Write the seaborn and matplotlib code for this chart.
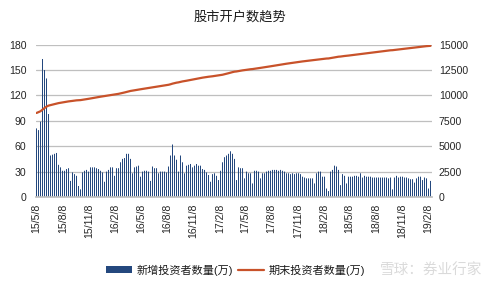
import numpy as np
import pandas as pd
import matplotlib
matplotlib.use("Agg")
import matplotlib.pyplot as plt
import seaborn as sns
from matplotlib.patches import Patch
from matplotlib.lines import Line2D

# ---------------- data ----------------
start_date = "2015-05-08"

# weekly new investors (万)
new_investors = [
    81, 79, 89, 163, 150, 140, 98, 49, 50, 51,
    52, 38, 35, 31, 31, 33, 34, 19, 29, 27,
    25, 13, 9, 29, 31, 32, 30, 35, 35, 35,
    34, 33, 31, 29, 18, 30, 32, 35, 35, 25,
    34, 34, 41, 45, 46, 51, 51, 45, 28, 35,
    36, 37, 24, 30, 31, 31, 30, 19, 36, 34,
    34, 28, 30, 30, 30, 29, 36, 49, 62, 49,
    44, 30, 49, 41, 28, 37, 38, 39, 35, 37,
    39, 37, 37, 33, 32, 29, 26, 18, 27, 28,
    25, 20, 31, 41, 47, 49, 51, 54, 51, 45,
    20, 35, 34, 34, 22, 30, 28, 28, 16, 31,
    31, 30, 22, 28, 28, 30, 31, 31, 32, 32,
    32, 31, 32, 31, 30, 28, 28, 27, 28, 27,
    28, 28, 27, 24, 23, 22, 22, 22, 22, 16,
    28, 30, 30, 24, 24, 10, 7, 30, 32, 37,
    36, 32, 14, 27, 25, 16, 24, 24, 24, 25,
    25, 24, 28, 23, 25, 24, 24, 24, 23, 23,
    23, 23, 23, 23, 23, 23, 22, 23, 9, 23,
    25, 23, 24, 24, 23, 23, 22, 21, 21, 17,
    22, 24, 24, 20, 23, 22, 10, 19,
]

# period-end investors (万)
end_investors = [
    8270, 8350, 8440, 8604, 8755, 8896, 8995, 9045, 9096, 9148,
    9201, 9240, 9276, 9308, 9340, 9374, 9409, 9429, 9459, 9487,
    9513, 9527, 9537, 9567, 9599, 9632, 9663, 9699, 9735, 9771,
    9806, 9840, 9872, 9902, 9921, 9952, 9985, 10021, 10057, 10083,
    10118, 10153, 10195, 10241, 10288, 10340, 10392, 10438, 10467, 10503,
    10540, 10578, 10603, 10634, 10666, 10698, 10729, 10749, 10786, 10821,
    10856, 10885, 10916, 10947, 10978, 11008, 11045, 11095, 11158, 11208,
    11253, 11284, 11334, 11376, 11405, 11443, 11482, 11522, 11558, 11596,
    11636, 11674, 11712, 11746, 11779, 11809, 11836, 11855, 11883, 11912,
    11938, 11959, 11991, 12033, 12081, 12131, 12183, 12238, 12290, 12336,
    12357, 12393, 12428, 12463, 12486, 12517, 12546, 12575, 12592, 12624,
    12656, 12687, 12710, 12739, 12768, 12799, 12831, 12863, 12896, 12929,
    12962, 12994, 13027, 13059, 13090, 13119, 13148, 13176, 13205, 13233,
    13262, 13291, 13319, 13344, 13368, 13391, 13414, 13437, 13460, 13477,
    13506, 13537, 13568, 13593, 13618, 13629, 13637, 13668, 13701, 13739,
    13776, 13809, 13824, 13852, 13878, 13895, 13920, 13945, 13970, 13996,
    14022, 14047, 14076, 14100, 14126, 14151, 14176, 14201, 14225, 14249,
    14273, 14297, 14321, 14345, 14369, 14393, 14416, 14440, 14450, 14474,
    14500, 14524, 14549, 14574, 14598, 14622, 14645, 14667, 14689, 14707,
    14730, 14755, 14780, 14801, 14825, 14848, 14859, 14879,
]

tick_labels = ["15/5/8", "15/8/8", "15/11/8", "16/2/8", "16/5/8", "16/8/8",
               "16/11/8", "17/2/8", "17/5/8", "17/8/8", "17/11/8", "18/2/8",
               "18/5/8", "18/8/8", "18/11/8", "19/2/8"]
tick_dates = ["2015-05-08", "2015-08-08", "2015-11-08", "2016-02-08",
              "2016-05-08", "2016-08-08", "2016-11-08", "2017-02-08",
              "2017-05-08", "2017-08-08", "2017-11-08", "2018-02-08",
              "2018-05-08", "2018-08-08", "2018-11-08", "2019-02-08"]

left_ticks = [0, 30, 60, 90, 120, 150, 180]
right_ticks = [0, 2500, 5000, 7500, 10000, 12500, 15000]

title = "股市开户数趋势"
bar_label = "新增投资者数量(万)"
line_label = "期末投资者数量(万)"
watermark = "雪球：券业行家"

# ---------------- style ----------------
sns.set_theme(style="white")
plt.rcParams['font.family'] = ['Liberation Sans', 'Noto Sans CJK SC', 'DejaVu Sans']

bar_color = "#24487E"
line_color = "#C8522A"
grid_color = "#BFBFBF"
text_color = "#262626"

W, H = 491, 288
fig = plt.figure(figsize=(W / 100, H / 100), dpi=100)
n = len(new_investors)
# axes spans exactly 2 px per week so the thin bars render evenly
ax = fig.add_axes([36 / W, 91 / H, 2 * n / W, 152.4 / H])

df = pd.DataFrame({
    "week": np.arange(n),
    "new": new_investors,
    "total": end_investors,
})

sns.barplot(data=df, x="week", y="new", color=bar_color, saturation=1,
            width=0.5, native_scale=True, errorbar=None, ax=ax, zorder=2,
            linewidth=0, edgecolor="none")
for p in ax.patches:
    p.set_snap(False)

ax2 = ax.twinx()
sns.lineplot(data=df, x="week", y="total", color=line_color, lw=1.6,
             ax=ax2, zorder=3)

# offset of a quarter week puts each 1-px bar exactly on a pixel column
ax.set_xlim(-0.25, n - 0.25)
ax.set_ylim(0, 180)
ax2.set_ylim(0, 15000)

tick_pos = ((pd.to_datetime(tick_dates) - pd.Timestamp(start_date)).days / 7).to_numpy()
ax.set_xticks(tick_pos)
ax.set_xticklabels(tick_labels, rotation=90, fontsize=7.6, color=text_color)
ax.set_yticks(left_ticks)
ax.set_yticklabels([str(v) for v in left_ticks], fontsize=7.6, color=text_color)
ax2.set_yticks(right_ticks)
ax2.set_yticklabels([str(v) for v in right_ticks], fontsize=7.6, color=text_color)

ax.tick_params(axis="x", length=0, pad=5)
ax.tick_params(axis="y", length=0, pad=7)
ax2.tick_params(axis="y", length=0, pad=5)

ax.set_xlabel("")
ax.set_ylabel("")
ax2.set_xlabel("")
ax2.set_ylabel("")

ax.set_axisbelow(True)
ax.yaxis.grid(True, color=grid_color, lw=0.9)
ax.xaxis.grid(False)
for a in (ax, ax2):
    for s in ("top", "left", "right"):
        a.spines[s].set_visible(False)
    a.spines["bottom"].set_color(grid_color)
ax2.spines["bottom"].set_visible(False)

fig.text(0.489, 0.94, title, ha="center", va="center", fontsize=9.5,
         color="#1a1a1a")

handles = [Patch(facecolor=bar_color, edgecolor="none", label=bar_label),
           Line2D([], [], color=line_color, lw=1.6, label=line_label)]
fig.legend(handles=handles, loc="center", bbox_to_anchor=(0.48, 0.0625),
           ncol=2, frameon=False, fontsize=8, handlelength=2.3,
           handleheight=0.55, columnspacing=0.5, handletextpad=0.4,
           labelcolor="#1a1a1a")

fig.text(0.878, 0.058, watermark, ha="center", va="center", fontsize=10.5,
         color="#d4d4d4", alpha=0.85, zorder=10)

fig.savefig("out.png", dpi=100)
